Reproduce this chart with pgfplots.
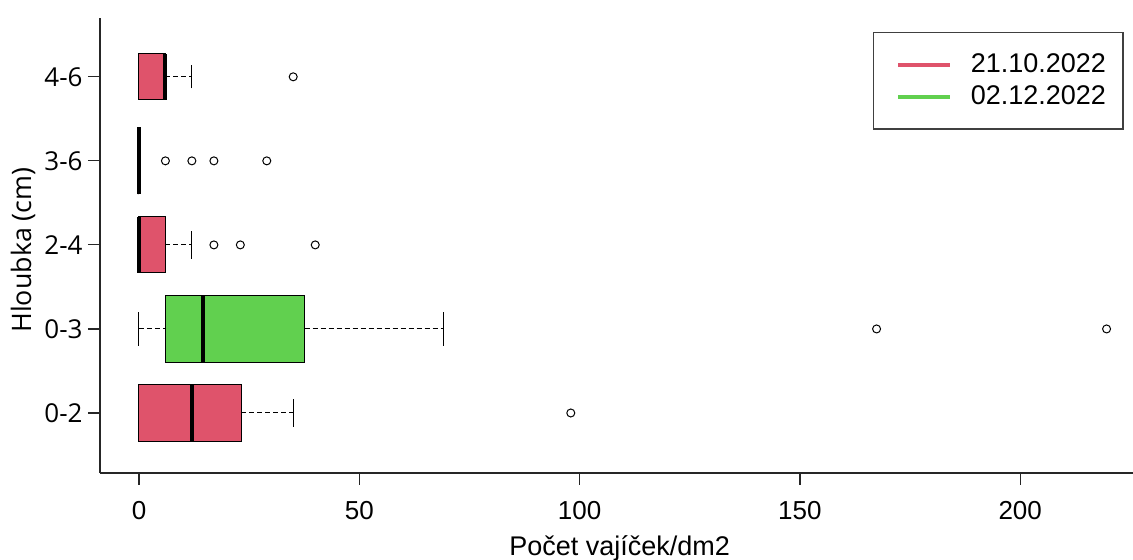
\documentclass[border=0pt]{standalone}
\usepackage{pgfplots}
\pgfplotsset{compat=1.18}
\usepgfplotslibrary{statistics}
\usepackage{fontspec}
\setmainfont{Liberation Sans}
\newfontfamily\yfont{Open Sans}
\definecolor{rred}{HTML}{DF536B}
\definecolor{rgreen}{HTML}{61D04F}
\newcommand{\fs}{\fontsize{13}{15}\selectfont}
\newcommand{\fl}{\fontsize{13.5}{15.5}\selectfont}
\begin{document}
\begin{tikzpicture}
\path[use as bounding box] (0pt,0pt) rectangle (566.5pt,280pt);
\begin{axis}[
  at={(50pt,43.5pt)}, anchor=south west,
  scale only axis, width=516.5pt, height=227.5pt,
  xmin=-8.85, xmax=225.6, ymin=0.286, ymax=5.70,
  axis x line*=bottom, axis y line*=left,
  axis line style={-, line width=0.6pt, draw=black!85},
  xtick={0,50,100,150,200},
  ytick={1,2,3,4,5}, yticklabels={0-2,0-3,2-4,3-6,4-6},
  tick align=outside, major tick length=6pt,
  tick style={line width=0.6pt, draw=black!85},
  /pgf/number format/assume math mode=true,
  xticklabel style={font=\fs, yshift=-4.5pt},
  yticklabel style={font=\yfont\fs, inner xsep=2.5pt},
  xlabel={Počet vajíček/dm2},
  ylabel={Hloubka (cm)},
  xlabel style={font=\fl, at={(axis description cs:0.503,-0.1824)}, anchor=base},
  ylabel style={font=\yfont\fontsize{13.4}{15}\selectfont, at={(axis description cs:-0.0745,0.49)}, anchor=center},
  legend style={at={(axis description cs:0.7483,0.9692)}, anchor=north west,
    draw=black!75, line width=0.6pt, font=\fl, inner xsep=6.5pt, inner ysep=8.6pt,
    row sep=1.1pt, nodes={inner sep=2pt}},
  legend cell align=left,
  legend image code/.code={\path (0pt,0pt) (39.5pt,0pt); \draw[#1, line width=2pt] (5.5pt,0pt) -- (31.5pt,0pt);},
  boxplot/draw direction=x,
  boxplot/every median/.style={line width=2pt, draw=black},
  boxplot/draw/lower whisker/.code={%
    \draw[black, line width=0.5pt, dash pattern=on 2.5pt off 1.5pt]
      (boxplot box cs:\pgfplotsboxplotvalue{lower whisker},0.5) --
      (boxplot box cs:\pgfplotsboxplotvalue{lower quartile},0.5);
    \draw[black, line width=0.5pt]
      (boxplot whisker cs:\pgfplotsboxplotvalue{lower whisker},0) --
      (boxplot whisker cs:\pgfplotsboxplotvalue{lower whisker},1);
  },
  boxplot/draw/upper whisker/.code={%
    \draw[black, line width=0.5pt, dash pattern=on 2.5pt off 1.5pt]
      (boxplot box cs:\pgfplotsboxplotvalue{upper quartile},0.5) --
      (boxplot box cs:\pgfplotsboxplotvalue{upper whisker},0.5);
    \draw[black, line width=0.5pt]
      (boxplot whisker cs:\pgfplotsboxplotvalue{upper whisker},0) --
      (boxplot whisker cs:\pgfplotsboxplotvalue{upper whisker},1);
  },
]
\addlegendimage{rred}
\addlegendentry{21.10.2022}
\addlegendimage{rgreen}
\addlegendentry{02.12.2022}

% 0-2
\addplot[forget plot, mark=o, mark size=2pt, mark options={black, solid, line width=0.5pt},
  boxplot prepared={draw position=1, lower whisker=0, lower quartile=0, median=12,
    upper quartile=23.2, upper whisker=35, box extend=0.667, whisker extend=0.333},
  boxplot/every box/.style={draw=black, line width=0.5pt, fill=rred}]
  table[row sep=\\, y index=0] {x\\ 98\\};
% 0-3
\addplot[forget plot, mark=o, mark size=2pt, mark options={black, solid, line width=0.5pt},
  boxplot prepared={draw position=2, lower whisker=0, lower quartile=6, median=14.6,
    upper quartile=37.6, upper whisker=69, box extend=0.8, whisker extend=0.4},
  boxplot/every box/.style={draw=black, line width=0.5pt, fill=rgreen}]
  table[row sep=\\, y index=0] {x\\ 167.4\\ 219.6\\};
% 2-4
\addplot[forget plot, mark=o, mark size=2pt, mark options={black, solid, line width=0.5pt},
  boxplot prepared={draw position=3, lower whisker=0, lower quartile=0, median=0,
    upper quartile=6, upper whisker=12, box extend=0.667, whisker extend=0.333},
  boxplot/every box/.style={draw=black, line width=0.5pt, fill=rred}]
  table[row sep=\\, y index=0] {x\\ 17\\ 23\\ 40\\};
% 3-6
\addplot[forget plot, mark=o, mark size=2pt, mark options={black, solid, line width=0.5pt},
  boxplot prepared={draw position=4, lower whisker=0, lower quartile=0, median=0,
    upper quartile=0, upper whisker=0, box extend=0.8, whisker extend=0.4},
  boxplot/every box/.style={draw=black, line width=0.5pt, fill=rred}]
  table[row sep=\\, y index=0] {x\\ 6\\ 12\\ 17\\ 29\\};
% 4-6
\addplot[forget plot, mark=o, mark size=2pt, mark options={black, solid, line width=0.5pt},
  boxplot prepared={draw position=5, lower whisker=0, lower quartile=0, median=6,
    upper quartile=6, upper whisker=12, box extend=0.55, whisker extend=0.275},
  boxplot/every box/.style={draw=black, line width=0.5pt, fill=rred}]
  table[row sep=\\, y index=0] {x\\ 35\\};
\end{axis}
\end{tikzpicture}
\end{document}
